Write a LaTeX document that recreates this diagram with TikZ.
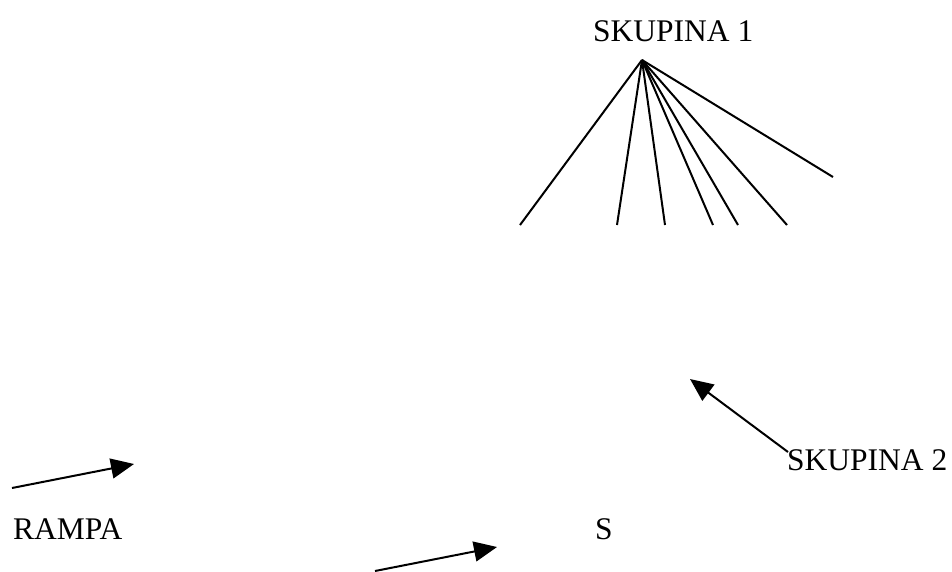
\documentclass[tikz,border=0pt]{standalone}
\usepackage{fontspec}
\setmainfont{Liberation Serif}
\usetikzlibrary{arrows.meta}
\begin{document}
\begin{tikzpicture}[x=1pt,y=-1pt,
  lbl/.style={anchor=base west,inner sep=0pt,font=\fontsize{31.5}{33}\selectfont},
  ray/.style={line width=2pt},
  arr/.style={line width=2pt,-{Triangle[length=23pt,width=20pt]}}]
\useasboundingbox[fill=white] (0,0) rectangle (952,571);
% labels
\node[lbl] (s1) at (593,41) {SKUPINA 1};
\node[lbl] (s2) at (787,470) {SKUPINA 2};
\node[lbl] (rampa) at (13,539) {RAMPA};
\node[lbl] (s) at (595,539) {S};
% fan
\coordinate (apex) at (642,60);
\coordinate (r1) at (520,225);
\coordinate (r2) at (617,225);
\coordinate (r3) at (665,225);
\coordinate (r4) at (713,225);
\coordinate (r5) at (738,225);
\coordinate (r6) at (787,225);
\coordinate (r7) at (833,177);
\foreach \r in {r1,r2,r3,r4,r5,r6,r7} \draw[ray] (apex) -- (\r);
% arrows
\coordinate (a1s) at (12,488);
\coordinate (a1e) at (134,464);
\coordinate (a2s) at (375,571);
\coordinate (a2e) at (497,547);
\coordinate (a3s) at (788,452);
\coordinate (a3e) at (690,379);
\draw[arr] (a1s) -- (a1e);
\draw[arr] (a2s) -- (a2e);
\draw[arr] (a3s) -- (a3e);
\end{tikzpicture}
\end{document}
